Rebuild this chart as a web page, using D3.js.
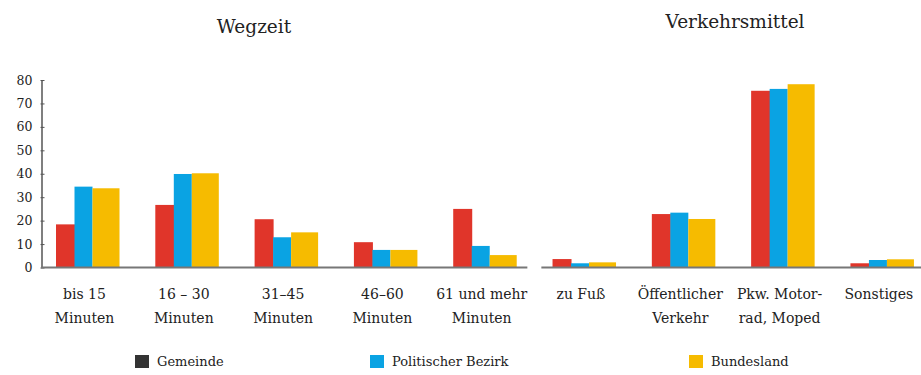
<!DOCTYPE html>
<html>
<head>
<meta charset="utf-8">
<script src="https://cdn.jsdelivr.net/npm/d3@7"></script>
<style>
  body { margin: 0; background: #fff; }
  text { font-family: "DejaVu Serif", serif; fill: #222; }
</style>
</head>
<body>
<div id="chart"></div>
<script>
// chart data
var categories = ["bis 15|Minuten", "16 – 30|Minuten", "31–45|Minuten", "46–60|Minuten", "61 und mehr|Minuten",
                  "zu Fuß", "Öffentlicher|Verkehr", "Pkw. Motor-|rad, Moped", "Sonstiges"];
var seriesNames = ["Gemeinde", "Politischer Bezirk", "Bundesland"];
var gemeinde = [18.4, 26.7, 20.6, 10.8, 25.0, 3.6, 22.8, 75.4, 1.8];
var bezirk   = [34.5, 39.9, 12.9, 7.5, 9.2, 1.8, 23.4, 76.2, 3.2];
var land     = [33.8, 40.2, 15.0, 7.5, 5.3, 2.2, 20.7, 78.2, 3.5];
var yTicks = [0, 10, 20, 30, 40, 50, 60, 70, 80];
var panelTitles = ["Wegzeit", "Verkehrsmittel"];

var values = [gemeinde, bezirk, land];
var barColors = ["#e0352a", "#0aa3e3", "#f6bb00"];
var legendColors = ["#333333", "#0aa3e3", "#f6bb00"];
var barOffset = [0, 18.5, 36.5];
var barWidth = [19, 18, 27];

var width = 921, height = 375;

var svg = d3.select("#chart").append("svg")
    .attr("width", width)
    .attr("height", height);

var x = d3.scaleBand()
    .domain(categories)
    .range([56, 913.4])
    .paddingInner(0.366)
    .paddingOuter(0);

var y = d3.scaleLinear()
    .domain([0, 80])
    .range([267.5, 80]);

// y axis
var yAxis = svg.append("g")
    .attr("transform", "translate(41.5,0)")
    .call(d3.axisLeft(y).tickValues(yTicks).tickSize(0).tickPadding(9));
yAxis.select(".domain").attr("stroke", "#555").attr("stroke-width", 1.5);
yAxis.selectAll("text").style("font-size", "12.5px").attr("fill", "#222");
yAxis.selectAll(".tick").append("line")
    .attr("x1", -1).attr("x2", 3)
    .attr("stroke", "#555");

// bars
values.forEach(function(vals, s) {
  svg.append("g").selectAll("rect")
    .data(vals)
    .enter()
    .append("rect")
    .attr("x", (d, i) => x(categories[i]) + barOffset[s])
    .attr("width", barWidth[s])
    .attr("y", d => y(d))
    .attr("height", d => y(0) - y(d))
    .attr("fill", barColors[s]);
});

// baselines for both panels
var gapMid = (x(categories[4]) + x.bandwidth() + x(categories[5])) / 2;
svg.append("line")
  .attr("x1", 41).attr("x2", gapMid - 7)
  .attr("y1", y(0)).attr("y2", y(0))
  .attr("stroke", "#777").attr("stroke-width", 2);
svg.append("line")
  .attr("x1", gapMid + 7).attr("x2", width)
  .attr("y1", y(0)).attr("y2", y(0))
  .attr("stroke", "#777").attr("stroke-width", 2);

// category labels
categories.forEach(function(c) {
  var t = svg.append("text")
    .attr("x", x(c) + x.bandwidth() / 2 - 3)
    .attr("y", 299)
    .attr("text-anchor", "middle")
    .style("font-size", "14px");
  c.split("|").forEach(function(line, j) {
    t.append("tspan")
      .attr("x", x(c) + x.bandwidth() / 2 - 3)
      .attr("dy", j === 0 ? 0 : 24)
      .text(line);
  });
});

// panel titles
svg.append("text")
  .attr("x", 254).attr("y", 33)
  .attr("text-anchor", "middle")
  .style("font-size", "18.5px")
  .text(panelTitles[0]);
svg.append("text")
  .attr("x", 735).attr("y", 28)
  .attr("text-anchor", "middle")
  .style("font-size", "18.5px")
  .text(panelTitles[1]);

// legend
var legendX = [135, 370, 689];
seriesNames.forEach(function(n, i) {
  var g = svg.append("g").attr("transform", "translate(" + legendX[i] + ",355)");
  g.append("rect")
    .attr("width", 14).attr("height", 13)
    .attr("fill", legendColors[i]);
  g.append("text")
    .attr("x", 22).attr("y", 11)
    .style("font-size", "13px")
    .text(n);
});
</script>
</body>
</html>
